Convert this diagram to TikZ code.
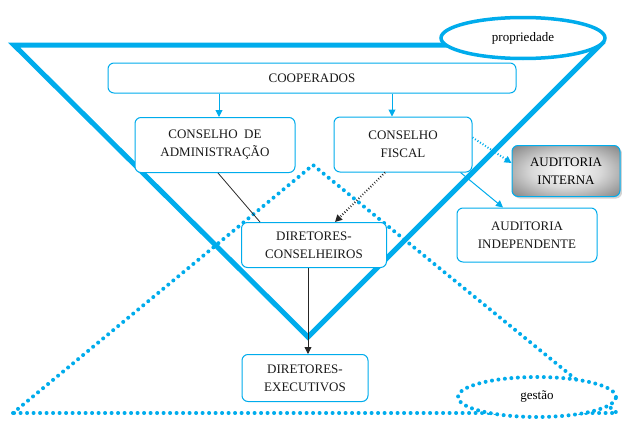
\documentclass[tikz,border=0pt]{standalone}
\usepackage{fontspec}
\setmainfont{Liberation Serif}
\usepackage{tikz}
\usetikzlibrary{arrows.meta,shapes.geometric,shadows,positioning}
\definecolor{azulcoop}{RGB}{0,172,236}
\pgfdeclareradialshading{auditoria}{\pgfpoint{0bp}{0bp}}{color(0bp)=(white); color(16bp)=(gray!30); color(42bp)=(gray!80!black); color(70bp)=(black!75)}

\begin{document}
\begin{tikzpicture}[x=1pt,y=-1pt,
        caixa/.style={draw=azulcoop, line width=1pt, rounded corners=6pt, fill=white, align=center,
                      font=\fontsize{13}{18}\selectfont, text=black!90},
        pontilhado/.style={draw=azulcoop, line width=4pt, line cap=round, dash pattern=on 0pt off 6.5pt},
        seta azul/.style={draw=azulcoop, line width=1pt, -{Triangle[length=7pt,width=7pt]}},
        seta preta/.style={draw=black!85, line width=0.8pt, -{Triangle[length=7pt,width=7pt]}}]
        \useasboundingbox (0,0) rectangle (622,423);
        % triangulos
        \draw[pontilhado] (13,413) -- (313,165) -- (617,413) -- cycle;
        \draw[azulcoop, line width=5pt, line join=miter] (14,45) -- (600,45) -- (308,337) -- cycle;
        \node[ellipse, draw=azulcoop, line width=3.5pt, fill=white, minimum width=164, minimum height=41,
              font=\fontsize{13}{15}\selectfont] (prop) at (523,38) {propriedade};
        \node[ellipse, pontilhado, fill=white, minimum width=158, minimum height=40,
              font=\fontsize{13}{15}\selectfont] (gestao) at (537,397) {gestão};
        % caixas
        \node[caixa, minimum width=408, minimum height=30] (coop) at (312,78) {COOPERADOS};
        \node[caixa, minimum width=160, minimum height=55] (adm) at (215,145) {CONSELHO \ DE\\ADMINISTRAÇÃO};
        \node[caixa, minimum width=138, minimum height=55] (fiscal) at (403,144.5) {CONSELHO\\FISCAL};
        \node[caixa, minimum width=108, minimum height=51, shading=auditoria, text=black,
              drop shadow={shadow xshift=2pt, shadow yshift=-2pt, opacity=0.35}]
              (interna) at (566,171) {AUDITORIA\\INTERNA};
        \node[caixa, minimum width=140, minimum height=54] (indep) at (527,235) {AUDITORIA\\INDEPENDENTE};
        \node[caixa, minimum width=145, minimum height=45] (dircons) at (314,245) {DIRETORES-\\CONSELHEIROS};
        \node[caixa, minimum width=126, minimum height=47] (direx) at (305,378) {DIRETORES-\\EXECUTIVOS};
        % ligacoes
        \draw[seta azul] ([xshift=4pt]coop.south -| adm.north) -- ([xshift=4pt]adm.north);
        \draw[seta azul] ([xshift=-11pt]coop.south -| fiscal.north) -- ([xshift=-11pt]fiscal.north);
        \draw[black!85, line width=0.8pt] ([xshift=3pt]adm.south) -- ([xshift=-54pt]dircons.north);
        \draw[seta preta, dotted, line width=2pt] ([xshift=-18pt]fiscal.south) -- ([xshift=21pt]dircons.north);
        \draw[seta azul, dotted, line width=2pt] ([yshift=7pt]fiscal.east) -- ([yshift=8pt]interna.west);
        \draw[seta azul] ([xshift=-12pt]fiscal.south east) -- ([xshift=-24pt]indep.north);
        \draw[seta preta] ([xshift=-6pt]dircons.south) -- ([xshift=3pt]direx.north);
\end{tikzpicture}
\end{document}
